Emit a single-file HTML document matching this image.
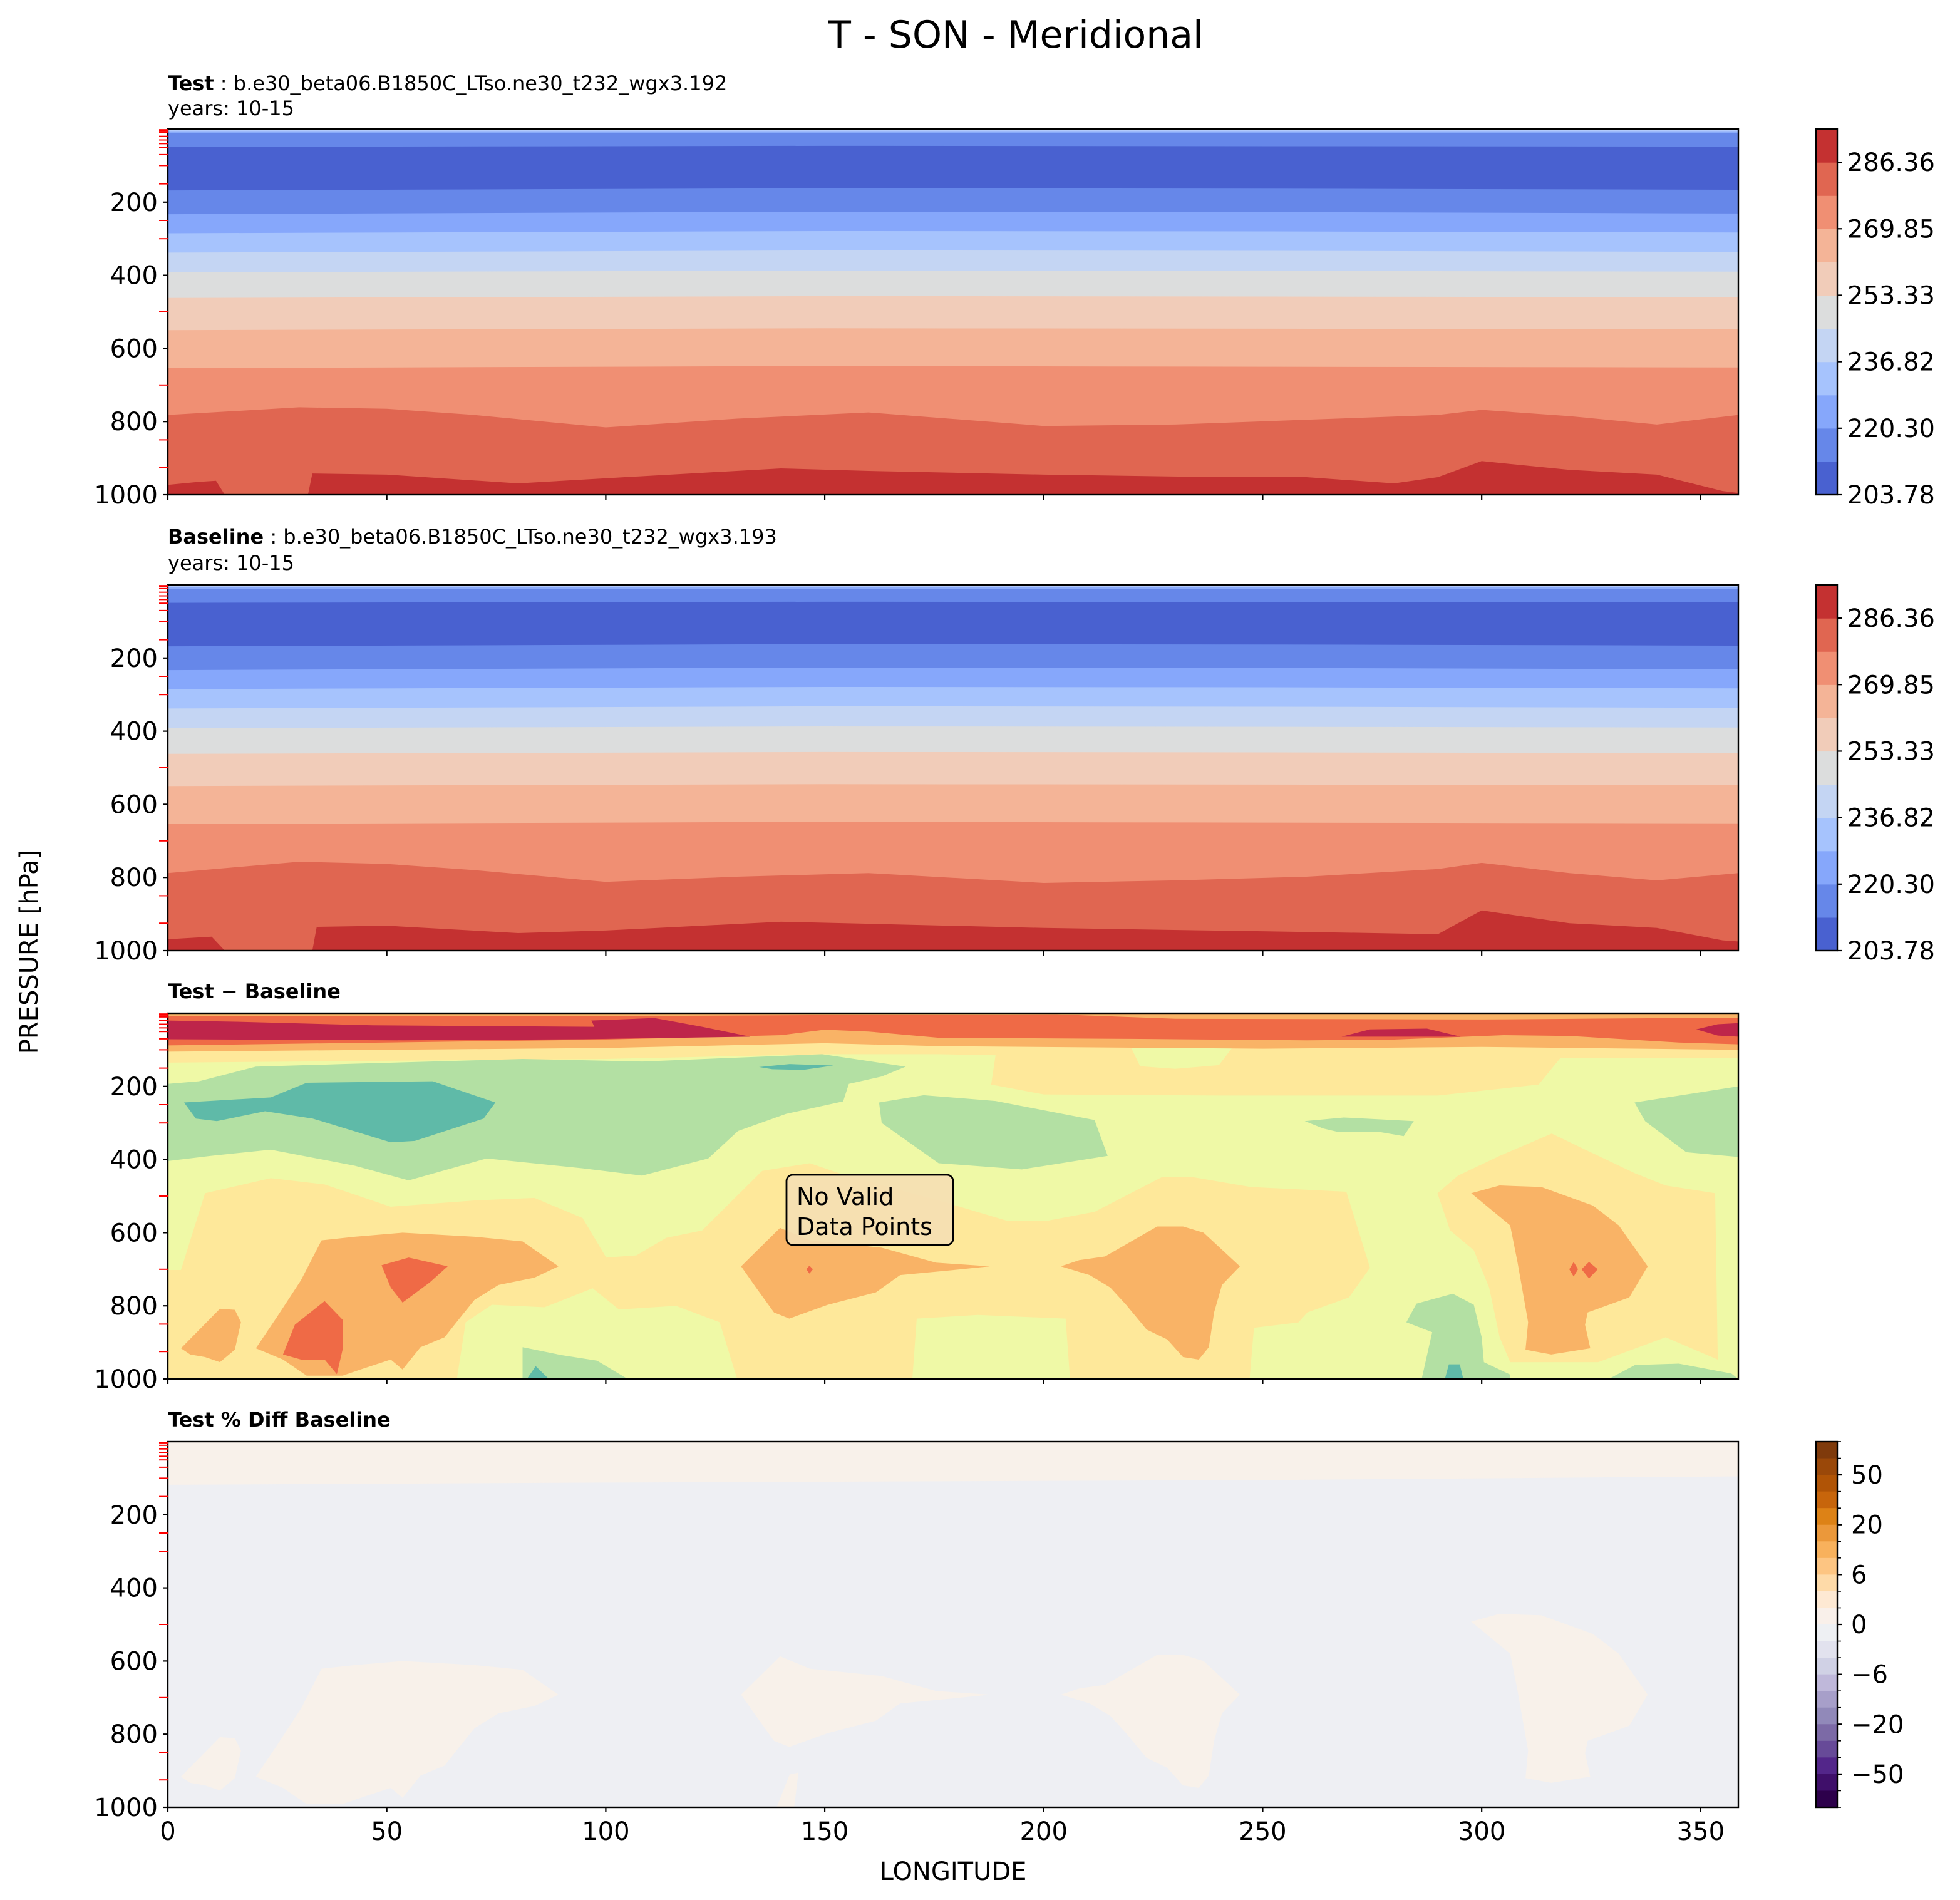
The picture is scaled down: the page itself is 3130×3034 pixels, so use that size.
<!DOCTYPE html>
<html><head><meta charset="utf-8"><title>T - SON - Meridional</title>
<style>html,body{margin:0;padding:0;background:#fff;}svg{display:block;font-family:"DejaVu Sans","Liberation Sans",sans-serif;}</style>
</head><body>
<svg id="fig" xmlns="http://www.w3.org/2000/svg" width="3130" height="3034" viewBox="0 0 1565 1517">
<rect x="0" y="0" width="1565" height="1517" fill="#fff"/>
<text x="811" y="38" text-anchor="middle" font-size="30">T - SON - Meridional</text>
<text x="134" y="72" font-size="16"><tspan font-weight="bold">Test</tspan><tspan> : b.e30_beta06.B1850C_LTso.ne30_t232_wgx3.192</tspan></text>
<text x="134" y="92" font-size="16">years: 10-15</text>
<text x="134" y="434" font-size="16"><tspan font-weight="bold">Baseline</tspan><tspan> : b.e30_beta06.B1850C_LTso.ne30_t232_wgx3.193</tspan></text>
<text x="134" y="455" font-size="16">years: 10-15</text>
<text x="134" y="797" font-size="16" font-weight="bold">Test − Baseline</text>
<text x="134" y="1139" font-size="16" font-weight="bold">Test % Diff Baseline</text>
<text transform="translate(30,760) rotate(-90)" text-anchor="middle" font-size="20">PRESSURE [hPa]</text>
<text x="761" y="1501" text-anchor="middle" font-size="20">LONGITUDE</text>
<g id="layers"></g>
</svg>
<script>
// ---------- data ----------
const lonMax = 358.6;
const xTicks = [0,50,100,150,200,250,300,350];
const yTicks = [200,400,600,800,1000];
const levelTicks = [2,5,10,20,30,40,50,70,100,150,250,300,500,700,850,925];
const tempColors = ["#b3cafb","#8aabfa","#6687e9","#4961d0","#6687e9","#86a7fb","#a6c3fd","#c4d5f3","#dcdddd","#f1ccb9","#f4b497","#f08f73","#e06651"];
const tempBottomColor = "#c43131";
const cbTempColors = ["#4961d0","#6687e9","#86a7fb","#a6c3fd","#c4d5f3","#dcdddd","#f1ccb9","#f4b497","#f08f73","#e06651","#c43131"];
const cbTempLabels = ["203.78","220.30","236.82","253.33","269.85","286.36"];
const testBounds = [
 [[0,6],[358.6,6]],
 [[0,12],[358.6,12]],
 [[0,49],[150,46],[358.6,48]],
 [[0,168],[150,162],[250,163],[358.6,166]],
 [[0,233],[150,226],[250,227],[358.6,231]],
 [[0,285],[150,279],[250,280],[358.6,283]],
 [[0,338],[150,332],[250,333],[358.6,336]],
 [[0,392],[150,387],[250,388],[358.6,390]],
 [[0,462],[150,457],[250,458],[358.6,460]],
 [[0,550],[150,545],[250,546],[358.6,548]],
 [[0,654],[150,648],[250,650],[358.6,652]],
 [[0,782],[30,761],[50,765],[70,782],[100,816],[130,792],[160,775],[200,812],[230,808],[260,795],[290,782],[300,768],[320,785],[340,808],[358.6,782]],
 [[0,973],[7,965],[11,962],[13,1000],[32,1000],[33,942],[50,945],[80,969],[100,955],[140,928],[160,935],[200,945],[240,952],[260,952],[280,969],[290,952],[300,908],[320,932],[340,945],[355,990],[358.6,995]]
];
const baseBounds = [
 [[0,6],[358.6,6]],
 [[0,12],[358.6,12]],
 [[0,49],[150,46],[358.6,48]],
 [[0,168],[150,162],[250,163],[358.6,166]],
 [[0,233],[150,226],[250,227],[358.6,231]],
 [[0,285],[150,279],[250,280],[358.6,283]],
 [[0,338],[150,332],[250,333],[358.6,336]],
 [[0,392],[150,387],[250,388],[358.6,390]],
 [[0,462],[150,457],[250,458],[358.6,460]],
 [[0,550],[150,545],[250,546],[358.6,548]],
 [[0,654],[150,648],[250,650],[358.6,652]],
 [[0,788],[30,757],[50,763],[70,780],[100,812],[130,798],[160,788],[200,815],[230,808],[260,798],[290,777],[300,760],[320,788],[340,808],[358.6,788]],
 [[0,969],[10,962],[13,1000],[33,1000],[34,935],[50,932],[80,952],[100,945],[140,921],[200,938],[260,949],[290,955],[300,890],[320,925],[340,938],[355,972],[358.6,975]]
];
// diff panel shapes [lon, pressure]
const diffBg = "#eff9a6";
const yellowTop = [[0,0],[358.6,0],[358.6,122],[318,122],[313,195],[290,225],[240,225],[200,222],[188,195],[189,115],[176,112],[150,112],[100,125],[50,130],[0,135]];
const palePatchTop = [[220,95],[243,95],[240,142],[230,152],[222,145]];
const yellowLowLeft = [[0,1000],[0,702],[3,702],[8.5,492],[23.5,451],[35.8,468],[50.9,529],[70,512],[83.7,505],[94.7,560],[100.1,668],[107,662],[113.8,614],[122,594],[135.7,431],[146.6,410],[154.9,444],[176,512],[191.5,567],[201,567],[211.6,543],[227,448],[234,448],[247.2,475],[269.1,488],[274.5,696],[269.7,777],[260.2,818],[256.7,865],[256,1000]];
const yellowLowRight = [[289.9,492],[294.6,444],[304.1,390],[316,329],[325.4,383],[334.9,437],[342,471],[353.3,492],[353.9,947],[342,886],[326.6,954],[306.5,954],[304.1,886],[301.7,750],[298.2,648],[292.8,594]];
const greenBig = [[0,193],[7.1,186],[20.1,146],[39.9,139],[81,125],[108.3,132],[149.4,112],[168.5,146],[163,173],[155.5,193],[154.2,241],[141.2,275],[130.2,322],[123.4,397],[108.3,444],[94.7,424],[72.8,397],[55,457],[42.7,417],[23.5,373],[9.8,390],[0,404]];
const tealLeft = [[3.7,244],[23.5,230],[31.7,190],[60.5,186],[74.8,244],[72.1,288],[56.4,349],[50.9,353],[33.1,288],[22.2,268],[11.2,295],[6.4,288]];
const tealSmall = [[135,147],[142,139],[152,143],[145,155],[138,153]];
const greenMid = [[162.4,244],[172.6,224],[189,240],[211.6,292],[214.6,390],[195,427],[176,410],[163,300]];
const greenSmall = [[259.6,295],[268.5,285],[284.5,295],[282.2,336],[276.8,325],[267.3,325],[263.8,315]];
const greenRight = [[334.9,244],[358.6,200],[358.6,393],[346.7,380],[337.3,295]];
const orangeTop = [[0,0],[358.6,0],[358.6,100],[300,92],[250,97],[176,90],[150,82],[100,95],[50,100],[0,105]];
const redTop = [[0,8],[100,8],[150,5],[203,3],[230,15],[300,17],[358.6,12],[358.6,85],[345,80],[320,62],[305,60],[280,72],[260,74],[220,70],[176,67],[160,50],[150,45],[140,60],[100,72],[50,80],[0,88]];
const crimsonLeft = [[0,20],[15.3,23],[46.8,33],[97.4,37],[96.7,20],[111.1,13],[122,37],[133,64],[94.7,71],[53.6,74],[0,71]];
const crimsonMid = [[268,64],[274.5,44],[287.5,42],[295.2,64]];
const crimsonRight = [[349,44],[353.9,30],[358.6,27],[358.6,64],[353.9,61]];
const orangeBlob1 = [[3,916],[11.9,808],[15.3,811],[16.7,845],[15.3,920],[11.9,954],[8.5,940],[5.1,933]];
const orangeBlob2 = [[20.1,916],[24.9,831],[30.4,730],[35.1,621],[42.7,611],[53.6,600],[70,611],[81,624],[89.2,692],[83.7,723],[75.5,743],[70,784],[65.9,845],[63.2,886],[57.7,913],[53.6,974],[50.9,947],[44,974],[39.9,991],[31.7,991],[26.3,947]];
const orangeMid = [[130.9,692],[139.8,587],[146.6,621],[163,641],[175.4,682],[187.7,692],[179.5,702],[167.2,716],[161.7,763],[150.7,797],[141.9,835],[138.4,818],[134.3,750]];
const orangeMidRight = [[203.9,692],[208.1,675],[214,665],[225.9,583],[231.8,583],[236.5,600],[244.8,692],[240.7,743],[238.9,818],[237.7,913],[235.4,947],[231.8,940],[228.2,892],[223.5,865],[218.8,797],[215.2,750],[210.5,716]];
const orangeRight = [[297.6,492],[304.1,471],[313.6,475],[325.4,526],[331.3,580],[337.9,692],[333.7,777],[324.2,818],[323.6,852],[324.8,916],[315.9,933],[310,920],[310.6,845],[308.2,682],[306.5,580]];
const redBlobA = [[48.8,689],[55,668],[63.9,692],[59.8,736],[53.6,791],[50.9,750]];
const redBlobB = [[26.3,933],[29,852],[35.8,787],[39.9,838],[39.9,920],[38.6,987],[35.8,947],[30.4,947]];
const redSpeck1 = [[146.5,690],[147.3,700],[146.5,712],[145.8,700]];
const redSpeck2 = [[321,680],[322,700],[321,720],[320,700]];
const redSpeck3 = [[324.5,680],[326.5,700],[324.5,725],[322.8,700]];
const paleBottom1 = [[66,1000],[68,845],[74,797],[86,804],[97,752],[103,810],[116,800],[126,845],[130,1000]];
const paleBottom2 = [[170,1000],[171,835],[185,825],[205,835],[206,1000]];
const paleBottom3 = [[247,1000],[248,860],[262,840],[283,830],[290,870],[300,1000]];
const paleBottom4 = [[326,1000],[330,958],[342,898],[354,950],[358.6,960],[358.6,1000]];
const greenBottom1 = [[81,1000],[81,913],[90,935],[98,950],[105,1000]];
const tealBottom1 = [[82,1000],[84,965],[87,1000]];
const greenBottom2 = [[282.8,845],[285.1,794],[293.4,767],[298.2,797],[300,886],[300.5,954],[306.5,988],[306.5,1000],[286.3,1000],[288.7,872]];
const tealBottom2 = [[291.6,1000],[292.5,960],[295,960],[295.8,1000]];
const greenBottom3 = [[329,1000],[335,962],[345,958],[357,985],[358.6,1000]];
// percent diff panel
const pctBg = "#eeeff3";
const pctCream = "#f8f1ea";
const pctTop = [[0,0],[358.6,0],[358.6,95],[250,105],[100,112],[0,118]];
const pctSpike = [[139,1000],[142,910],[144,905],[143,1000]];
const cbPctColors = ["#7f3a0b","#9a4809","#b05406","#c7650b","#dd8216","#eb983a","#f8b15c","#fdc582","#fedaa8","#fee9d3","#f9f0ea","#eef0f3","#e2e2ee","#d0d1e5","#bfb8da","#a79fc9","#9189b9","#7c6aa6","#674a98","#53268a","#3f0f6a","#2d004b"];
const cbPctLabels = ["50","20","6","0","\u22126","\u221220","\u221250"];
const cbPctLabelEdges = [2,5,8,11,14,17,20];

// ---------- layout / axis functions ----------
const NS = "http://www.w3.org/2000/svg";
const X0 = 134, X1 = 1388, PH = 292;
const panelTops = [103, 467, 809, 1151];
const xs = lon => X0 + lon / lonMax * (X1 - X0);
const ys = (p, top) => top + p / 1000 * PH;
const root = document.getElementById('layers');
function mk(tag, attrs, parent) {
  const e = document.createElementNS(NS, tag);
  for (const k in attrs) e.setAttribute(k, attrs[k]);
  (parent || root).appendChild(e);
  return e;
}
function poly(pts, color, top, g) {
  const d = pts.map(q => xs(q[0]).toFixed(2) + ',' + ys(q[1], top).toFixed(2)).join(' ');
  return mk('polygon', {points: d, fill: color}, g);
}
function areaAbove(bnd, color, top, g) {
  const pts = [[0, 0], [lonMax, 0]].concat(bnd.slice().reverse());
  return poly(pts, color, top, g);
}

const defs = mk('defs', {});
panelTops.forEach((t, i) => {
  const cp = mk('clipPath', {id: 'clip' + i}, defs);
  mk('rect', {x: X0, y: t, width: X1 - X0, height: PH}, cp);
});

[[testBounds, 0, 'test'], [baseBounds, 1, 'baseline']].forEach(([bounds, pi, nm]) => {
  const top = panelTops[pi];
  const g = mk('g', {'clip-path': 'url(#clip' + pi + ')'});
  
  
  const bg = mk('rect', {x: X0, y: top, width: X1 - X0, height: PH, fill: tempBottomColor}, g);
  
  
  for (let i = bounds.length - 1; i >= 0; i--) {
    const el = areaAbove(bounds[i], tempColors[i], top, g);
    
    
  }
});

(function () {
  const top = panelTops[2];
  const g = mk('g', {'clip-path': 'url(#clip2)'});
  
  
  const bg = mk('rect', {x: X0, y: top, width: X1 - X0, height: PH, fill: diffBg}, g);
  
  
  const shapes = [
    [yellowTop, '#fee89a'], [palePatchTop, diffBg], [yellowLowLeft, '#fee89a'], [yellowLowRight, '#fee89a'],
    [greenBig, '#b3e0a3'], [tealLeft, '#5fbaa8'], [tealSmall, '#5fbaa8'], [greenMid, '#b3e0a3'],
    [greenSmall, '#b3e0a3'], [greenRight, '#b3e0a3'],
    [orangeTop, '#f9b366'], [redTop, '#ef6a46'], [crimsonLeft, '#be254a'], [crimsonMid, '#be254a'], [crimsonRight, '#be254a'],
    [orangeBlob1, '#f9b366'], [orangeBlob2, '#f9b366'], [orangeMid, '#f9b366'], [orangeMidRight, '#f9b366'], [orangeRight, '#f9b366'],
    [redBlobA, '#ef6a46'], [redBlobB, '#ef6a46'], [redSpeck1, '#ef6a46'], [redSpeck2, '#ef6a46'], [redSpeck3, '#ef6a46'],
    [paleBottom1, diffBg], [paleBottom2, diffBg], [paleBottom3, diffBg], [paleBottom4, diffBg],
    [greenBottom1, '#b3e0a3'], [tealBottom1, '#5fbaa8'], [greenBottom2, '#b3e0a3'], [tealBottom2, '#5fbaa8'], [greenBottom3, '#b3e0a3']
  ];
  shapes.forEach(s => {
    const el = poly(s[0], s[1], top, g);
    
    
  });
})();

(function () {
  const top = panelTops[3];
  const g = mk('g', {'clip-path': 'url(#clip3)'});
  
  
  const bg = mk('rect', {x: X0, y: top, width: X1 - X0, height: PH, fill: pctBg}, g);
  
  
  [pctTop, orangeBlob1, orangeBlob2, orangeMid, orangeMidRight, orangeRight, pctSpike].forEach(s => {
    const el = poly(s, pctCream, top, g);
    
    
  });
})();

panelTops.forEach((top, pi) => {
  const g = mk('g', {});
  
  
  const sp = mk('rect', {x: X0, y: top, width: X1 - X0, height: PH, fill: 'none', stroke: '#000', 'stroke-width': 1.2}, g);
  
  
  levelTicks.forEach(p => {
    const t = mk('line', {x1: X0 - 7, x2: X0, y1: ys(p, top), y2: ys(p, top), stroke: '#ff0000', 'stroke-width': 1}, g);
    
    
  });
  yTicks.forEach(p => {
    const y = ys(p, top);
    const t = mk('line', {x1: X0 - 4, x2: X0, y1: y, y2: y, stroke: '#000', 'stroke-width': 1.1}, g);
    
    
    const lb = mk('text', {x: X0 - 8, y: y + 7, 'text-anchor': 'end', 'font-size': 20}, g);
    lb.textContent = p;
    
    
  });
  xTicks.forEach(l => {
    const x = xs(l);
    const t = mk('line', {x1: x, x2: x, y1: top + PH, y2: top + PH + 4, stroke: '#000', 'stroke-width': 1.1}, g);
    
    
    if (pi === 3) {
      const lb = mk('text', {x: x, y: top + PH + 26, 'text-anchor': 'middle', 'font-size': 20}, g);
      lb.textContent = l;
      
      
    }
  });
});

[0, 1].forEach(pi => {
  const top = panelTops[pi];
  const g = mk('g', {});
  
  
  const n = cbTempColors.length, h = PH / n;
  cbTempColors.forEach((c, i) => {
    const r = mk('rect', {x: 1450, y: top + PH - (i + 1) * h, width: 17, height: h + 0.3, fill: c}, g);
    
    
  });
  mk('rect', {x: 1450, y: top, width: 17, height: PH, fill: 'none', stroke: '#000', 'stroke-width': 1.2}, g);
  cbTempLabels.forEach((lbl, j) => {
    const y = top + PH - j * 2 * h;
    const t = mk('line', {x1: 1467, x2: 1471, y1: y, y2: y, stroke: '#000', 'stroke-width': 1.1}, g);
    
    
    const tx = mk('text', {x: 1475, y: y + 7, 'font-size': 20}, g);
    tx.textContent = lbl;
    
    
  });
});

(function () {
  const top = panelTops[3];
  const g = mk('g', {});
  
  
  const n = cbPctColors.length, h = PH / n;
  cbPctColors.forEach((c, i) => {
    const r = mk('rect', {x: 1450, y: top + i * h, width: 17, height: h + 0.3, fill: c}, g);
    
    
  });
  mk('rect', {x: 1450, y: top, width: 17, height: PH, fill: 'none', stroke: '#000', 'stroke-width': 1.2}, g);
  for (let e = 0; e <= n; e++) {
    const y = top + e * h;
    const t = mk('line', {x1: 1467, x2: 1470, y1: y, y2: y, stroke: '#000', 'stroke-width': 0.8}, g);
    
    
  }
  cbPctLabels.forEach((lbl, j) => {
    const y = top + cbPctLabelEdges[j] * h;
    const t = mk('line', {x1: 1467, x2: 1471, y1: y, y2: y, stroke: '#000', 'stroke-width': 1.1}, g);
    
    
    const tx = mk('text', {x: 1478, y: y + 7, 'font-size': 20}, g);
    tx.textContent = lbl;
    
    
  });
})();

(function () {
  const g = mk('g', {});
  
  
  mk('rect', {x: 628, y: 938, width: 133, height: 56, rx: 5, fill: '#f5deb3', 'fill-opacity': 0.92, stroke: '#000', 'stroke-width': 1.4}, g);
  const t1 = mk('text', {x: 636, y: 962, 'font-size': 19}, g);
  t1.textContent = 'No Valid';
  const t2 = mk('text', {x: 636, y: 986, 'font-size': 19}, g);
  t2.textContent = 'Data Points';
})();
</script>
</body></html>
